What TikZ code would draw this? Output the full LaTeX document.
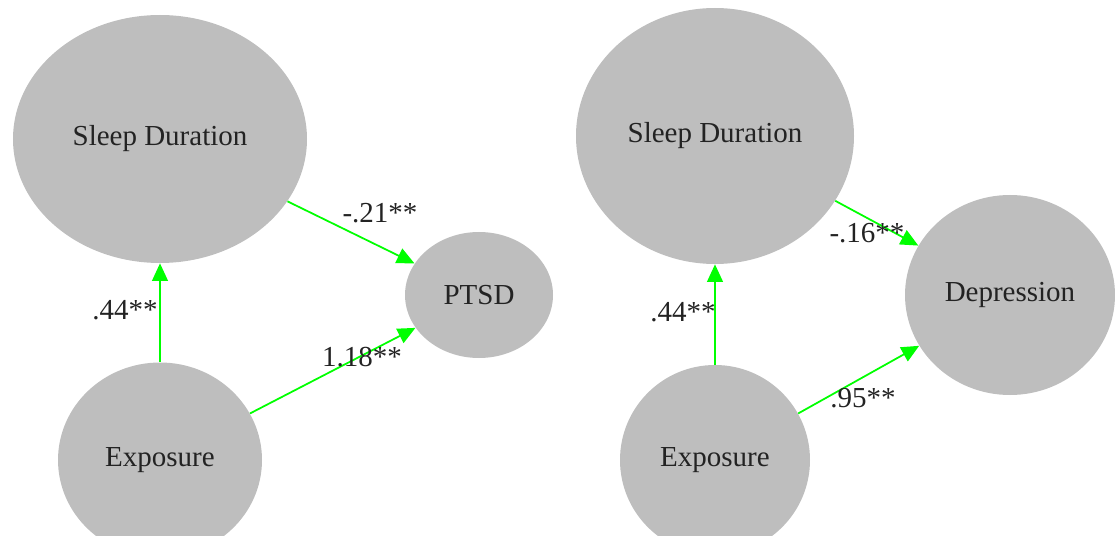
\documentclass[tikz,border=0pt]{standalone}
\usepackage{fontspec}
\setmainfont{Liberation Serif}
\usetikzlibrary{shapes.geometric,arrows.meta}
\definecolor{latentgray}{RGB}{190,190,190}
\definecolor{pathgreen}{RGB}{0,255,0}
\definecolor{inkgray}{RGB}{35,35,35}
\begin{document}
\begin{tikzpicture}[scale=1.0,
  var/.style={ellipse,fill=latentgray,inner sep=0pt,text=inkgray,font=\fontsize{16.5}{19}\selectfont},
  effect/.style={draw=pathgreen,line width=1pt,-{Triangle[length=10pt,width=9pt]}},
  coef/.style={text=inkgray,inner sep=0pt,font=\fontsize{16.5}{19}\selectfont}]
\useasboundingbox (0,0) rectangle (22.3,10.7);
\node[var,minimum width=5.88cm,minimum height=4.96cm] (sleepA) at (3.20,7.92) {Sleep Duration};
\node[var,minimum width=2.96cm,minimum height=2.52cm] (ptsdA) at (9.58,4.80) {PTSD};
\node[var,minimum width=4.08cm,minimum height=3.90cm] (expA) at (3.20,1.50) {Exposure};
\node[var,minimum width=5.56cm,minimum height=5.12cm] (sleepB) at (14.30,7.98) {Sleep Duration};
\node[var,minimum width=4.20cm,minimum height=4.00cm] (deprB) at (20.20,4.80) {Depression};
\node[var,minimum width=3.80cm,minimum height=3.80cm] (expB) at (14.30,1.50) {Exposure};
\draw[effect] (expA) -- (sleepA);
\draw[effect] (sleepA) -- (ptsdA);
\draw[effect] (expA) -- (ptsdA);
\draw[effect] (expB) -- (sleepB);
\draw[effect] (sleepB) -- (deprB);
\draw[effect] (expB) -- (deprB);
\node[coef] (wA1) at (7.60,6.44) {-.21**};
\node[coef] (wA2) at (7.24,3.56) {1.18**};
\node[coef] (wA3) at (2.50,4.50) {.44**};
\node[coef] (wB1) at (17.34,6.04) {-.16**};
\node[coef] (wB2) at (17.26,2.74) {.95**};
\node[coef] (wB3) at (13.66,4.46) {.44**};
\end{tikzpicture}
\end{document}
